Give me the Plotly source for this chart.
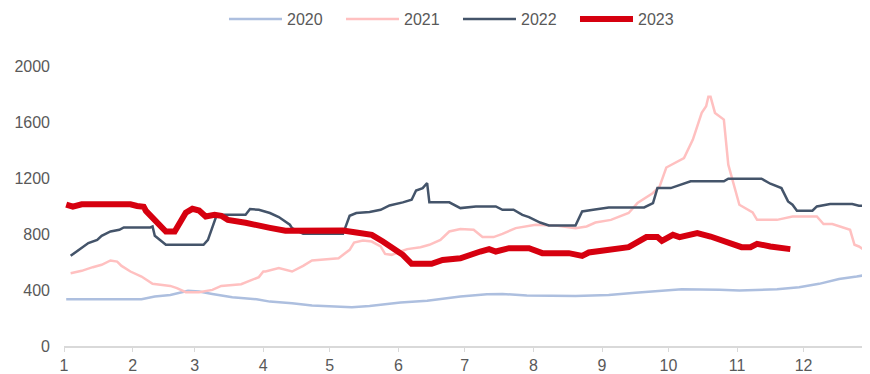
import plotly.graph_objects as go

YEAR = "2023"

dates_2020 = ["01-02","02-05","02-11","02-18","02-26","03-03","03-09","03-18","03-29","04-04","04-14","04-23",
              "05-11","05-19","06-02","06-14","06-29","07-11","07-18","07-29","08-20","09-04","09-16","10-02",
              "10-07","10-24","11-02","11-19","11-29","12-08","12-17","12-25","12-31"]
vals_2020 = [334,334,353,365,394,389,372,348,334,317,305,289,
             277,286,310,324,353,370,372,360,358,365,381,400,
             406,401,396,406,420,444,479,496,513]

dates_2021 = ["01-04","01-09","01-14","01-18","01-22","01-25","01-27","01-31","02-05","02-10","02-18","02-21",
              "02-25","03-03","03-09","03-13","03-22","03-27","03-30","04-01","04-02","04-08","04-14","04-19",
              "04-23","05-05","05-10","05-12","05-16","05-20","05-24","05-26","05-29","06-02","06-05","06-11",
              "06-15","06-20","06-24","06-29","07-05","07-09","07-14","07-18","07-24","08-02","08-12","08-20",
              "08-25","08-29","09-05","09-13","09-17","09-24","09-27","09-30","10-08","10-12","10-16","10-18",
              "10-19","10-20","10-22","10-26","10-28","11-02","11-08","11-10","11-19","11-26","12-07","12-10",
              "12-14","12-22","12-24","12-26","12-31"]
vals_2021 = [520,537,563,580,611,603,572,532,496,444,429,413,
             384,384,401,429,441,472,492,532,532,556,532,572,
             611,627,687,739,753,746,711,658,651,675,692,706,
             723,758,818,835,830,778,778,801,842,866,859,842,
             854,882,901,950,1021,1093,1140,1275,1343,1474,1665,1713,
             1780,1780,1665,1617,1295,1009,954,901,901,925,925,871,
             871,830,723,711,658]

dates_2022 = ["01-04","01-09","01-12","01-16","01-18","01-22","01-26","01-28","02-09","02-10","02-11","02-16",
              "03-05","03-07","03-11","03-24","03-26","03-30","04-04","04-08","04-13","04-14","04-19","05-07",
              "05-10","05-13","05-19","05-24","05-28","06-03","06-07","06-09","06-12","06-14","06-15","06-24",
              "06-29","07-06","07-15","07-18","07-23","07-27","07-30","08-04","08-08","08-20","08-23","08-28",
              "09-04","09-20","09-24","09-26","10-02","10-11","10-26","10-28","11-12","11-16","11-21","11-24",
              "11-26","11-28","12-05","12-07","12-13","12-23","12-26","12-31"]
vals_2022 = [644,699,735,758,787,818,830,847,847,854,787,723,
             723,758,937,937,978,973,950,921,866,842,801,801,
             930,950,957,973,1004,1026,1045,1111,1128,1164,1026,1026,
             985,997,997,973,973,937,921,882,861,861,961,973,
             990,990,1021,1128,1128,1176,1176,1195,1195,1159,1128,1033,
             1009,966,966,997,1014,1014,1002,1002]

dates_2023 = ["01-02","01-05","01-09","01-31","02-03","02-06","02-07","02-11","02-16","02-20","02-23","02-25",
              "02-28","03-03","03-06","03-10","03-13","03-16","03-24","03-30","04-04","04-11","05-07","05-13",
              "05-20","05-25","05-29","06-03","06-07","06-16","06-21","06-29","07-08","07-12","07-15","07-21",
              "07-30","08-05","08-17","08-23","08-26","09-04","09-13","09-21","09-26","09-28","10-03","10-06",
              "10-14","10-20","10-27","11-03","11-07","11-10","11-16","11-25"]
vals_2023 = [1010,995,1012,1012,1000,995,965,900,818,818,890,952,
             980,968,925,937,930,901,880,866,844,823,825,811,
             794,746,708,651,587,587,615,627,675,692,675,699,
             699,663,663,644,668,682,706,778,778,751,794,778,
             806,782,746,706,706,730,711,692]

month_ticks = [f"{YEAR}-{m:02d}-01" for m in range(1, 13)]
month_labels = [str(m) for m in range(1, 13)]
y_ticks = [0, 400, 800, 1200, 1600, 2000]

series = [
    ("2020", dates_2020, vals_2020, "#adbfdf", 2.5),
    ("2021", dates_2021, vals_2021, "#ffc0c0", 2.5),
    ("2022", dates_2022, vals_2022, "#44546a", 2.5),
    ("2023", dates_2023, vals_2023, "#d6000f", 6),
]

fig = go.Figure()
for name, d, v, color, w in series:
    fig.add_trace(go.Scatter(
        x=[f"{YEAR}-{s}" for s in d], y=v, name=name, mode="lines",
        line=dict(color=color, width=w), hoverinfo="x+y+name",
    ))

# page body has an 8px default margin, so the figure is 862x366 and offset by 8px
font = dict(family="Liberation Sans, Arial, sans-serif", size=16, color="#595959")
fig.update_layout(
    width=862, height=366,
    margin=dict(l=56, r=0, t=58, b=28, autoexpand=False),
    paper_bgcolor="white", plot_bgcolor="white",
    font=font,
    showlegend=True,
    legend=dict(orientation="h", xref="paper", yref="paper",
                x=0.1985, xanchor="left", y=1.2286, yanchor="top",
                font=font, entrywidth=49, entrywidthmode="pixels",
                itemwidth=53, bgcolor="rgba(0,0,0,0)"),
    xaxis=dict(type="date", range=[f"{YEAR}-01-01", f"{YEAR}-12-31"],
               tickvals=month_ticks, ticktext=month_labels, automargin=False,
               showgrid=False, zeroline=False,
               showline=True, linecolor="#d9d9d9", linewidth=2,
               ticks="outside", ticklen=4, tickcolor="#d9d9d9", tickwidth=1,
               tickfont=font),
    yaxis=dict(range=[0, 2000], tickvals=y_ticks, showgrid=False, zeroline=False,
               automargin=False,
               showline=False, ticks="", ticklabelstandoff=13, tickfont=font),
)

fig.write_html("out.html")
